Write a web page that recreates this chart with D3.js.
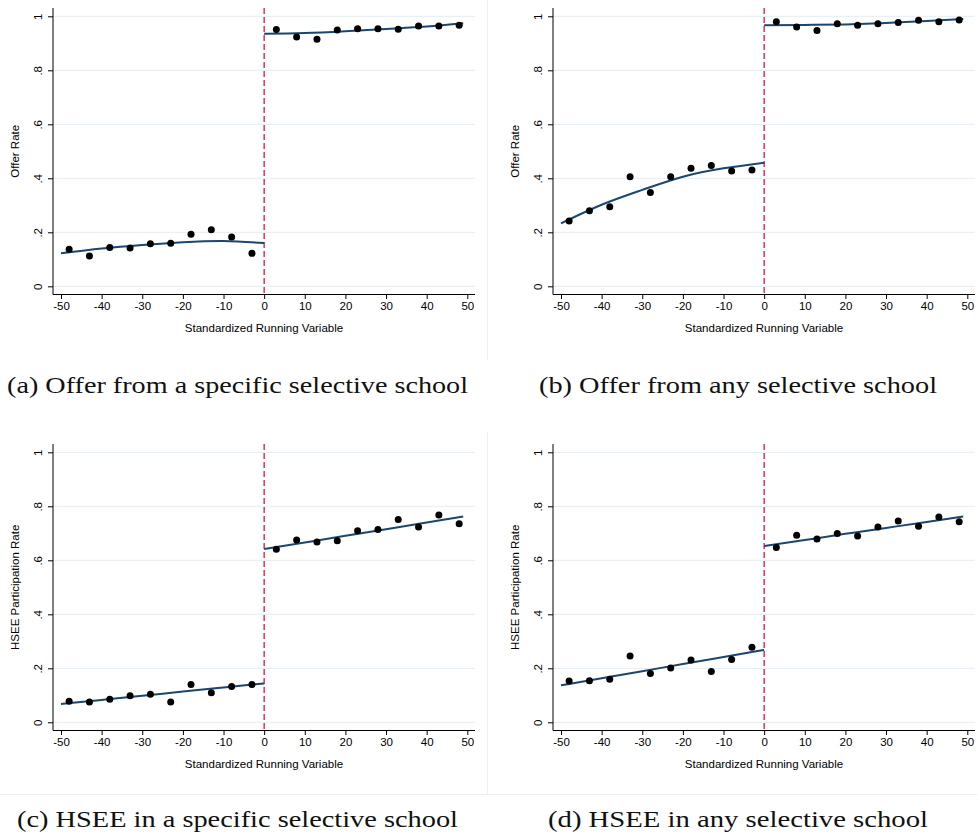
<!DOCTYPE html>
<html lang="en">
  <head>
    <meta charset="UTF-8">
    <title>Offer and HSEE rates around the cutoff</title>
    <style>
      body {
        margin: 0;
        background: #fff;
      }

      svg {
        display: block;
        font-family: 'Liberation Sans', Arial, sans-serif;
      }

      .caption {
        font-family: 'Liberation Serif', 'Times New Roman', serif;
        font-size: 24px;
        fill: #111;
      }
    </style>
  </head>
  <body>
    <div id="chart"></div>

    <script src="https://d3js.org/d3.v7.min.js"></script>
    <script>
      // bin midpoints on each side of the cutoff
      const binsLeft = [-48, -43, -38, -33, -28, -23, -18, -13, -8, -3];
      const binsRight = [3, 8, 13, 18, 23, 28, 33, 38, 43, 48];

      const fitXLeft = [-50, -40, -30, -20, -10, 0];
      const fitXRight = [0, 10, 20, 30, 40, 49];

      const xTicks = [-50, -40, -30, -20, -10, 0, 10, 20, 30, 40, 50];
      const yTicks = [0, 0.2, 0.4, 0.6, 0.8, 1];
      const yTickLabels = ['0', '.2', '.4', '.6', '.8', '1'];

      const xTitle = 'Standardized Running Variable';
      const yTitles = ['Offer Rate', 'Offer Rate', 'HSEE Participation Rate', 'HSEE Participation Rate'];
      const captions = [
        '(a) Offer from a specific selective school',
        '(b) Offer from any selective school',
        '(c) HSEE in a specific selective school',
        '(d) HSEE in any selective school'
      ];

      // (a) offer from a specific selective school
      const offerSpecificLeft = [0.137, 0.112, 0.144, 0.142, 0.158, 0.159, 0.193, 0.209, 0.183, 0.122];
      const offerSpecificRight = [0.951, 0.923, 0.915, 0.949, 0.954, 0.954, 0.952, 0.964, 0.964, 0.967];
      const offerSpecificFitLeft = [0.122, 0.140, 0.153, 0.163, 0.168, 0.160];
      const offerSpecificFitRight = [0.935, 0.938, 0.945, 0.953, 0.962, 0.974];

      // (b) offer from any selective school
      const offerAnyLeft = [0.242, 0.280, 0.295, 0.406, 0.347, 0.406, 0.437, 0.447, 0.427, 0.431];
      const offerAnyRight = [0.980, 0.960, 0.947, 0.972, 0.967, 0.972, 0.977, 0.985, 0.980, 0.986];
      const offerAnyFitLeft = [0.233, 0.302, 0.357, 0.406, 0.437, 0.458];
      const offerAnyFitRight = [0.967, 0.968, 0.970, 0.975, 0.983, 0.990];

      // (c) HSEE in a specific selective school
      const hseeSpecificLeft = [0.078, 0.075, 0.085, 0.098, 0.104, 0.075, 0.140, 0.109, 0.133, 0.140];
      const hseeSpecificRight = [0.641, 0.675, 0.668, 0.672, 0.709, 0.714, 0.751, 0.723, 0.768, 0.735];
      const hseeSpecificFitLeft = [0.068, 0.083, 0.098, 0.114, 0.129, 0.144];
      const hseeSpecificFitRight = [0.642, 0.666, 0.691, 0.715, 0.740, 0.762];

      // (d) HSEE in any selective school
      const hseeAnyLeft = [0.153, 0.154, 0.159, 0.246, 0.181, 0.201, 0.231, 0.188, 0.233, 0.278];
      const hseeAnyRight = [0.647, 0.693, 0.679, 0.699, 0.690, 0.723, 0.746, 0.726, 0.760, 0.743];
      const hseeAnyFitLeft = [0.137, 0.163, 0.189, 0.216, 0.242, 0.268];
      const hseeAnyFitRight = [0.653, 0.675, 0.698, 0.720, 0.742, 0.762];

      const panels = [
        { left: offerSpecificLeft, right: offerSpecificRight, fitLeft: offerSpecificFitLeft, fitRight: offerSpecificFitRight },
        { left: offerAnyLeft, right: offerAnyRight, fitLeft: offerAnyFitLeft, fitRight: offerAnyFitRight },
        { left: hseeSpecificLeft, right: hseeSpecificRight, fitLeft: hseeSpecificFitLeft, fitRight: hseeSpecificFitRight },
        { left: hseeAnyLeft, right: hseeAnyRight, fitLeft: hseeAnyFitLeft, fitRight: hseeAnyFitRight }
      ];

      // page layout: offsets of each sub-figure, caption centre / width
      const layout = [
        { ox: 0, oy: 0, capX: 237.5, capY: 393, capW: 461 },
        { ox: 500, oy: 0, capX: 738, capY: 393, capW: 398 },
        { ox: 0, oy: 436, capX: 237.5, capY: 827, capW: 441 },
        { ox: 500, oy: 436, capX: 738, capY: 827, capW: 380 }
      ];

      const width = 977;
      const height = 839;

      const svg = d3.select('#chart').append('svg')
        .attr('width', width)
        .attr('height', height);

      // faint edges of the embedded graph images
      const edge = '#efefef';
      svg.append('line').attr('x1', 487.5).attr('x2', 487.5).attr('y1', 0).attr('y2', 360).attr('stroke', edge);
      svg.append('line').attr('x1', 487.5).attr('x2', 487.5).attr('y1', 432).attr('y2', 794).attr('stroke', edge);
      svg.append('line').attr('x1', 0).attr('x2', width).attr('y1', 794.5).attr('y2', 794.5).attr('stroke', edge);

      const plotLeft = 53, plotRight = 475, plotTop = 8, plotBottom = 294.5;
      const fontSize = 11.5;

      const drawPanel = (p, i) => {
        const pos = layout[i];
        const g = svg.append('g').attr('transform', `translate(${pos.ox},${pos.oy})`);

        const x = d3.scaleLinear().domain([-50, 50]).range([61, 467.3]);
        const y = d3.scaleLinear().domain([0, 1]).range([286.3, 16.3]);

        // grid
        g.append('g').selectAll('line')
          .data(yTicks)
          .join('line')
          .attr('x1', plotLeft)
          .attr('x2', plotRight)
          .attr('y1', d => y(d))
          .attr('y2', d => y(d))
          .attr('stroke', '#e4ecef')
          .attr('stroke-width', 1);

        // y axis
        const yAxis = g.append('g')
          .attr('transform', `translate(${plotLeft},0)`)
          .call(d3.axisLeft(y).tickValues(yTicks).tickFormat((d, k) => yTickLabels[k]).tickSize(5));
        yAxis.select('.domain').remove();
        yAxis.selectAll('.tick line').attr('stroke', '#000');
        yAxis.selectAll('.tick text')
          .attr('transform', 'rotate(-90)')
          .attr('x', 0)
          .attr('y', -11)
          .attr('dy', 0)
          .attr('text-anchor', 'middle')
          .attr('fill', '#000')
          .style('font-size', fontSize + 'px');

        // x axis
        const xAxis = g.append('g')
          .attr('transform', `translate(0,${plotBottom})`)
          .call(d3.axisBottom(x).tickValues(xTicks).tickFormat(d => String(d)).tickSize(4.5).tickPadding(3));
        xAxis.select('.domain').remove();
        xAxis.selectAll('.tick line').attr('stroke', '#000');
        xAxis.selectAll('.tick text')
          .attr('fill', '#000')
          .style('font-size', fontSize + 'px');

        g.append('line')
          .attr('x1', plotLeft).attr('x2', plotLeft)
          .attr('y1', plotTop).attr('y2', plotBottom)
          .attr('stroke', '#000');
        g.append('line')
          .attr('x1', plotLeft).attr('x2', plotRight)
          .attr('y1', plotBottom).attr('y2', plotBottom)
          .attr('stroke', '#000');

        // axis titles
        g.append('text')
          .attr('transform', `translate(19,${(y(0) + y(1)) / 2}) rotate(-90)`)
          .attr('text-anchor', 'middle')
          .style('font-size', fontSize + 'px')
          .text(yTitles[i]);
        g.append('text')
          .attr('x', (plotLeft + plotRight) / 2)
          .attr('y', 332)
          .attr('text-anchor', 'middle')
          .style('font-size', fontSize + 'px')
          .text(xTitle);

        // cutoff
        g.append('line')
          .attr('x1', x(0)).attr('x2', x(0))
          .attr('y1', plotTop).attr('y2', plotBottom)
          .attr('stroke', '#dc143c')
          .attr('stroke-width', 1.3)
          .attr('stroke-dasharray', '6,3');

        // fitted curves
        const line = d3.line()
          .x(d => x(d[0]))
          .y(d => y(d[1]))
          .curve(d3.curveNatural);
        g.append('path')
          .datum(d3.zip(fitXLeft, p.fitLeft))
          .attr('d', line)
          .attr('fill', 'none')
          .attr('stroke', '#1a476f')
          .attr('stroke-width', 2);
        g.append('path')
          .datum(d3.zip(fitXRight, p.fitRight))
          .attr('d', line)
          .attr('fill', 'none')
          .attr('stroke', '#1a476f')
          .attr('stroke-width', 2);

        // bin means
        const pts = d3.zip(binsLeft, p.left).concat(d3.zip(binsRight, p.right));
        g.append('g').selectAll('circle')
          .data(pts)
          .join('circle')
          .attr('cx', d => x(d[0]))
          .attr('cy', d => y(d[1]))
          .attr('r', 3.5)
          .attr('fill', '#000');

        // caption
        svg.append('text')
          .attr('class', 'caption')
          .attr('x', pos.capX)
          .attr('y', pos.capY)
          .attr('text-anchor', 'middle')
          .attr('textLength', pos.capW)
          .attr('lengthAdjust', 'spacingAndGlyphs')
          .text(captions[i]);
      };

      panels.forEach(drawPanel);
    </script>
  </body>
</html>
